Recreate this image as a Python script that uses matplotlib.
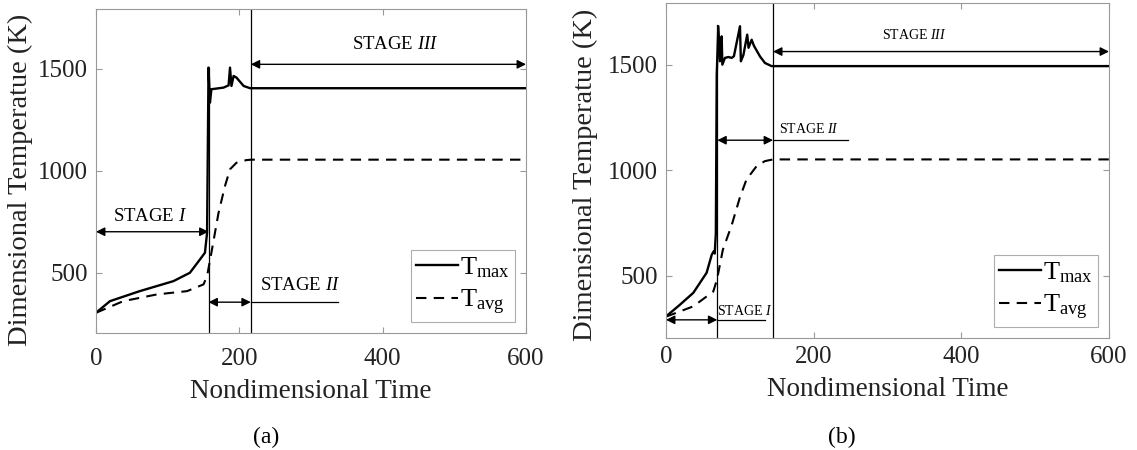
import matplotlib
matplotlib.use("Agg")
import matplotlib.pyplot as plt

# panel (a)
a_tmax_t = [0, 19.5, 61, 108, 131, 145, 152, 155, 157, 159, 161, 178, 185, 187, 189, 192, 196, 206, 215, 600]
a_tmax_T = [304, 361, 410, 459, 500, 565, 598, 696, 1505, 1333, 1399, 1407, 1418, 1505, 1415, 1464, 1456, 1415, 1404, 1404]
a_tavg_t = [0, 38, 85, 127, 150, 155, 161, 171, 180, 187, 196, 210, 217, 600]
a_tavg_T = [304, 361, 394, 410, 443, 484, 598, 794, 925, 1007, 1039, 1052, 1054, 1054]
a_stage_bounds = [0, 157, 216, 600]

# panel (b)
b_tmax_t = [0, 18, 37, 55, 62, 64.5, 66, 67.5, 68.7, 70.9, 73.1, 75.4, 76.3, 79.9, 84.4, 89, 92, 100.2, 101.4,
            104.8, 110, 111.8, 116, 119, 127.3, 134, 143, 600]
b_tmax_T = [307, 360, 419, 514, 600, 615, 605, 700, 1453, 1682, 1516, 1634, 1500, 1532, 1536, 1532, 1540, 1682,
            1516, 1545, 1642, 1580, 1618, 1590, 1539, 1508, 1493, 1493]
b_tavg_t = [0, 37, 64, 69, 77, 89, 100, 109, 122.7, 134, 145, 600]
b_tavg_T = [306, 355, 425, 481, 623, 740, 870, 956, 1019, 1043, 1051, 1051]
b_stage_bounds = [0, 69.5, 145, 600]

plt.rcParams["font.family"] = ["Liberation Serif", "DejaVu Serif"]
plt.rcParams["mathtext.fontset"] = "custom"
plt.rcParams["mathtext.rm"] = "Liberation Serif"
plt.rcParams["mathtext.it"] = "Liberation Serif:italic"

YLIM = (205, 1792)
W, H = 1137, 450
fig = plt.figure(figsize=(W / 100, H / 100), dpi=100)
ax1 = fig.add_axes([96 / W, 1 - 333 / H, 430 / W, 324 / H])
ax2 = fig.add_axes([666 / W, 1 - 338 / H, 443 / W, 335 / H])


def style_axes(ax, ylab_xy, tick_pad, xlab_pad):
    ax.set_xlim(0, 600)
    ax.set_ylim(*YLIM)
    ax.set_xticks([0, 200, 400, 600])
    ax.set_yticks([500, 1000, 1500])
    ax.tick_params(direction="in", top=True, right=True, labelsize=18, colors="#999999",
                   labelcolor="#222222", length=4, pad=6)
    ax.tick_params(axis="x", pad=tick_pad)
    for s in ax.spines.values():
        s.set_color("#999999")
    ax.set_xlabel("Nondimensional Time", fontsize=19.5, color="#222222", labelpad=xlab_pad)
    ax.set_ylabel("Dimensional Temperatue (K)", fontsize=20.5, color="#222222")
    ax.yaxis.set_label_coords(*ylab_xy)


def darrow(ax, x0, x1, y):
    ax.annotate("", xy=(x1, y), xytext=(x0, y),
                arrowprops=dict(arrowstyle="<|-|>", color="black", lw=1.0,
                                shrinkA=0, shrinkB=0, mutation_scale=13))


def legend(ax):
    leg = ax.legend(loc="lower right", fontsize=19, handlelength=1.6, handletextpad=0.05,
                    fancybox=False, edgecolor="#999999", borderpad=0.2, labelspacing=0.3,
                    borderaxespad=0.42)
    leg.get_frame().set_linewidth(0.8)


# ---- panel (a)
ax1.plot(a_tmax_t, a_tmax_T, color="black", lw=1.7, label=r"T$_{\mathrm{max}}$")
ax1.plot(a_tavg_t, a_tavg_T, color="black", lw=1.5, ls=(0, (5, 3.5)), label=r"T$_{\mathrm{avg}}$")
ax1.plot([a_stage_bounds[1]] * 2, [YLIM[0], 1505], color="black", lw=0.9)
ax1.axvline(a_stage_bounds[2], color="black", lw=0.9)
style_axes(ax1, (-0.1465, 0.472), 11, 6)
darrow(ax1, a_stage_bounds[0], a_stage_bounds[1], 701)
ax1.text(75, 735, r"STAGE $\it{I}$", fontsize=13.5, ha="center", va="bottom")
darrow(ax1, a_stage_bounds[1], a_stage_bounds[2], 356)
ax1.plot([a_stage_bounds[2], 338], [356, 356], color="black", lw=0.9)
ax1.text(285, 395, r"STAGE $\it{II}$", fontsize=13.5, ha="center", va="bottom")
darrow(ax1, a_stage_bounds[2], a_stage_bounds[3], 1521)
ax1.text(417, 1575, r"STAGE $\it{III}$", fontsize=13.5, ha="center", va="bottom")
legend(ax1)

# ---- panel (b)
ax2.plot(b_tmax_t, b_tmax_T, color="black", lw=1.7, label=r"T$_{\mathrm{max}}$")
ax2.plot(b_tavg_t, b_tavg_T, color="black", lw=1.5, ls=(0, (5, 3.5)), label=r"T$_{\mathrm{avg}}$")
ax2.plot([b_stage_bounds[1]] * 2, [YLIM[0], 1690], color="black", lw=0.9)
ax2.axvline(b_stage_bounds[2], color="black", lw=0.9)
style_axes(ax2, (-0.1535, 0.487), 6, 6)
darrow(ax2, b_stage_bounds[0], b_stage_bounds[1], 291)
ax2.plot([b_stage_bounds[1], 134], [291, 291], color="black", lw=0.9)
ax2.text(107, 300, r"STAGE $\it{I}$", fontsize=10, ha="center", va="bottom")
darrow(ax2, b_stage_bounds[1], b_stage_bounds[2], 1142)
ax2.plot([b_stage_bounds[2], 246], [1142, 1142], color="black", lw=0.9)
ax2.text(193, 1160, r"STAGE $\it{II}$", fontsize=10, ha="center", va="bottom")
darrow(ax2, b_stage_bounds[2], b_stage_bounds[3], 1562)
ax2.text(336, 1605, r"STAGE $\it{III}$", fontsize=10, ha="center", va="bottom")
legend(ax2)

fig.text(266 / W, 1 - 437 / H, "(a)", fontsize=17, ha="center", va="center")
fig.text(842 / W, 1 - 437 / H, "(b)", fontsize=17, ha="center", va="center")

fig.savefig("out.png", dpi=100)
